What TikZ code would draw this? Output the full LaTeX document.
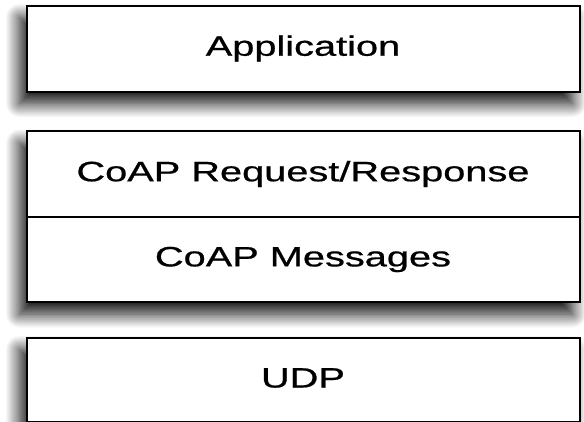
\documentclass[tikz,border=0pt]{standalone}
\usepackage{fontspec}
\setmainfont{Liberation Sans}[FakeBold=0.6]
\usepackage{graphicx}
\usetikzlibrary{shadows.blur,backgrounds}

% horizontally widened label text
\newcommand\widelabel[1]{\scalebox{1.42}[1]{#1}}

\tikzset{
  layer/.style={draw=black, line width=2pt, fill=white, rectangle,
    minimum width=553pt, inner sep=0pt, outer sep=0pt,
    font=\fontsize{28}{30}\selectfont},
  dropshadow/.style={blur shadow={shadow xshift=-7pt, shadow yshift=-12pt,
    shadow blur radius=14pt, shadow blur steps=20, shadow opacity=95}}
}

\begin{document}
\begin{tikzpicture}[x=1pt,y=-1pt]
  \useasboundingbox (0,0) rectangle (584,421);
  \clip (0,0) rectangle (584,421);

  % protocol layers, top to bottom
  \node[layer, minimum height=86pt] (app)  at (303,48.5)  {\widelabel{Application}};
  \node[layer, minimum height=86pt] (reqr) at (303,174)   {\widelabel{CoAP Request/Response}};
  \node[layer, minimum height=85pt] (msgs) at (303,259.5) {\widelabel{CoAP Messages}};
  \node[layer, minimum height=84pt] (udp) at (303,379.5) {};
  \node[font=\fontsize{28}{30}\selectfont, inner sep=0pt] (udplabel) at (303,378) {\widelabel{UDP}};

  % soft drop shadows behind each group
  \begin{pgfonlayer}{background}
    \path[dropshadow, fill=white] (app.north west) rectangle (app.south east);
    \path[dropshadow, fill=white] (reqr.north west) rectangle (msgs.south east);
    \path[dropshadow, fill=white] (udp.north west) rectangle (udp.south east);
  \end{pgfonlayer}
\end{tikzpicture}
\end{document}
